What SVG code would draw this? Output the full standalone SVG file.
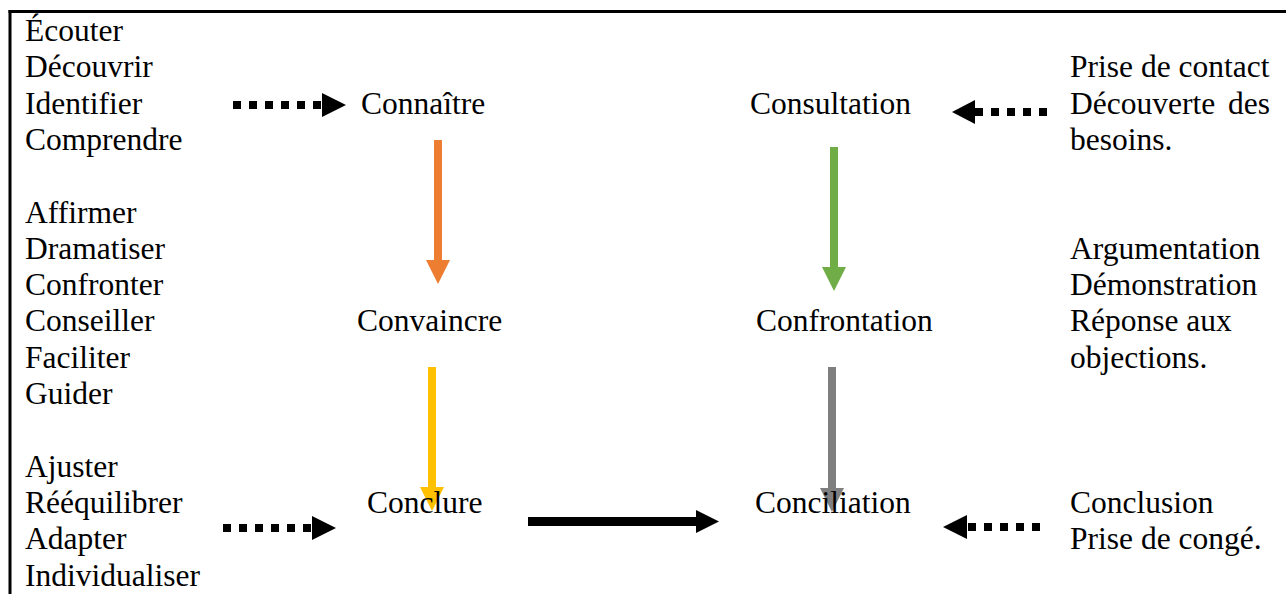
<svg xmlns="http://www.w3.org/2000/svg" width="1286" height="594" viewBox="0 0 1286 594">
<style>
text{font-family:'Liberation Serif','Times New Roman',serif;font-size:31.5px;fill:#000}
.dot{fill:none;stroke:#000;stroke-width:8;stroke-dasharray:8 8}
</style>
<rect width="1286" height="594" fill="#fff"/>
<g id="frame" stroke="#000" stroke-width="3" fill="none">
<line x1="8.5" y1="11.5" x2="1286" y2="11.5"/>
<line x1="10" y1="10" x2="10" y2="594"/>
</g>
<g id="connectors">
<line class="dot" x1="233" y1="105" x2="322" y2="105"/>
<polygon points="322,93 346,105 322,117"/>
<line class="dot" x1="1047" y1="112" x2="975" y2="112"/>
<polygon points="975,100 952,112 975,124"/>
<line class="dot" x1="223" y1="528" x2="312" y2="528"/>
<polygon points="312,516 336,528 312,540"/>
<line class="dot" x1="1040" y1="527" x2="967" y2="527"/>
<polygon points="967,515 943,527 967,539"/>
<g fill="#ED7D31"><rect x="434" y="140" width="8" height="121"/><polygon points="426,260 450,260 438,284"/></g>
<g fill="#70AD47"><rect x="830" y="147" width="8" height="121"/><polygon points="822,267 846,267 834,291"/></g>
<g fill="#FFC000"><rect x="428" y="367" width="8" height="121"/><polygon points="420,487 444,487 432,511"/></g>
<g fill="#7F7F7F"><rect x="828" y="367" width="8" height="122"/><polygon points="820,488 844,488 832,512"/></g>
<rect x="528" y="517" width="170" height="9"/>
<polygon points="696,510 719,521.5 696,533"/>
</g>
<g id="left-top"><text x="25" y="41">Écouter</text><text x="25" y="77.3">Découvrir</text><text x="25" y="113.6">Identifier</text><text x="25" y="149.9">Comprendre</text></g>
<g id="left-mid"><text x="25" y="222.5">Affirmer</text><text x="25" y="258.8">Dramatiser</text><text x="25" y="295.1">Confronter</text><text x="25" y="331.4">Conseiller</text><text x="25" y="367.7">Faciliter</text><text x="25" y="404">Guider</text></g>
<g id="left-bot"><text x="25" y="476.6">Ajuster</text><text x="25" y="512.9">Rééquilibrer</text><text x="25" y="549.2">Adapter</text><text x="25" y="585.5">Individualiser</text></g>
<g id="connaitre"><text x="361" y="113.6">Connaître</text></g>
<g id="consultation"><text x="750" y="113.6">Consultation</text></g>
<g id="convaincre"><text x="357" y="331.4">Convaincre</text></g>
<g id="confrontation"><text x="756" y="331.4">Confrontation</text></g>
<g id="conclure"><text x="367" y="512.9">Conclure</text></g>
<g id="conciliation"><text x="755" y="512.9">Conciliation</text></g>
<g id="right-top"><text x="1070" y="77.3">Prise de contact</text><text x="1070" y="113.6">Découverte <tspan x="1228">des</tspan></text><text x="1070" y="149.9">besoins.</text></g>
<g id="right-mid"><text x="1070" y="258.8">Argumentation</text><text x="1070" y="295.1">Démonstration</text><text x="1070" y="331.4">Réponse aux</text><text x="1070" y="367.7">objections.</text></g>
<g id="right-bot"><text x="1070" y="512.9">Conclusion</text><text x="1070" y="549.2">Prise de congé.</text></g>
</svg>
